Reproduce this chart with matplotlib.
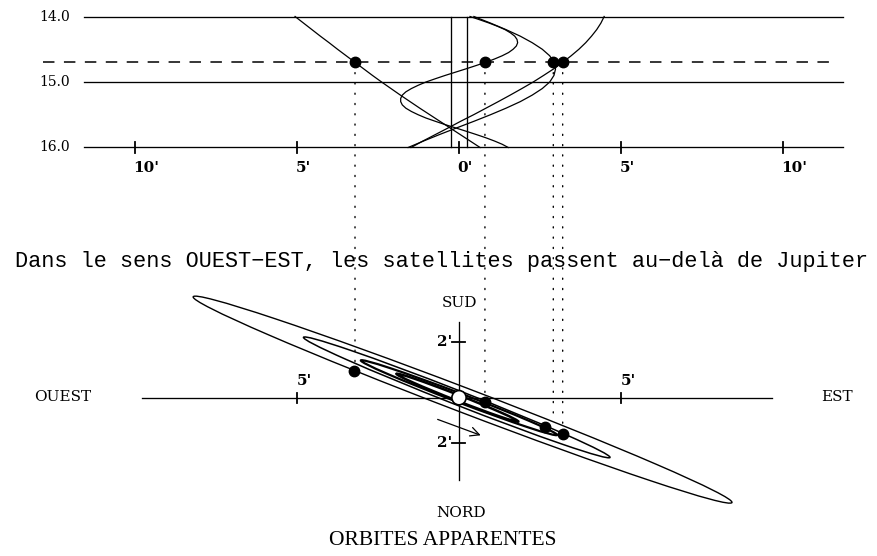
import matplotlib
matplotlib.use("Agg")
import matplotlib.pyplot as plt
from matplotlib.patches import Ellipse, Circle, ConnectionPatch
import numpy as np

SERIF = "DejaVu Serif"
SERIF2 = "Liberation Serif"
MONO = "Liberation Mono"

# --- top panel: east-west offset (arcmin) against date (days) ---
days = np.linspace(14.0, 16.0, 21)
days_io = np.linspace(14.0, 16.0, 41)

io_x = [0.34, 0.64, 0.93, 1.19, 1.42, 1.59, 1.72, 1.79, 1.81, 1.77,
        1.67, 1.53, 1.33, 1.09, 0.82, 0.52, 0.21, -0.11, -0.43, -0.73,
        -1.02, -1.26, -1.47, -1.64, -1.75, -1.80, -1.80, -1.75, -1.64, -1.47,
        -1.26, -1.02, -0.73, -0.43, -0.11, 0.21, 0.52, 0.82, 1.09, 1.33, 1.52]
europa_x = [0.46, 0.97, 1.45, 1.89, 2.26, 2.57, 2.80, 2.93, 2.98, 2.93,
            2.80, 2.57, 2.26, 1.89, 1.45, 0.97, 0.46, -0.07, -0.59, -1.09, -1.57]
ganymede_x = [4.48, 4.38, 4.25, 4.09, 3.91, 3.70, 3.46, 3.20, 2.92, 2.61,
              2.29, 1.94, 1.58, 1.21, 0.83, 0.45, 0.05, -0.33, -0.72, -1.11, -1.48]
callisto_x = [-5.06, -4.80, -4.54, -4.28, -4.01, -3.75, -3.48, -3.21, -2.94, -2.67,
              -2.39, -2.10, -1.81, -1.51, -1.21, -0.90, -0.59, -0.28, 0.03, 0.34, 0.65]

date_lines = [14.0, 15.0, 16.0]
obs_date = 14.70
jupiter_edge = 0.26
top_ticks = [-10, -5, 0, 5, 10]

# positions of the satellites at the observation date
dots_top_x = [-3.21, 0.80, 2.91, 3.20]
dots_bot = [(-3.23, 0.83), (0.80, -0.13), (2.65, -0.90), (3.20, -1.11)]
dotted_end_y = [0.83, -0.13, -0.70, -1.11]

# --- bottom panel: apparent orbits (centre x, centre y, semi-major, semi-minor, tilt) ---
orbits = {
    "Io": (-0.05, 0.0, 2.02, 0.09, -21.4),
    "Europe": (0.0, 0.0, 3.24, 0.14, -20.8),
    "Ganymede": (-0.07, 0.01, 5.08, 0.22, -21.4),
    "Callisto": (0.11, -0.06, 8.90, 0.38, -20.9),
}
orbit_lw = {"Io": 1.8, "Europe": 1.6, "Ganymede": 1.1, "Callisto": 1.0}
bot_xticks = [-5, 5]
bot_yticks = [1.73, -1.40]

fig = plt.figure(figsize=(8.77, 5.56), dpi=100)
ax_t = fig.add_axes([0, 0, 1, 1])
ax_b = fig.add_axes([0, 0, 1, 1])
for ax in (ax_t, ax_b):
    ax.set_axis_off()
    ax.set_xlim(-14.167, 12.901)
ax_t.set_ylim(22.237, 13.748)
ax_b.set_ylim(-4.886, 12.275)
ax_b.patch.set_visible(False)

# top panel
for d in date_lines:
    ax_t.plot([-11.57, 11.86], [d, d], color="k", lw=0.95)
    ax_t.text(-12.0, d, f"{d:.1f}", ha="right", va="center",
              fontsize=10, family=SERIF)
ax_t.plot([-12.84, 11.70], [obs_date, obs_date], color="k", lw=1.1,
          dashes=(7.5, 6.2))
for e in (-jupiter_edge, jupiter_edge):
    ax_t.plot([e, e], [14.0, 16.0], color="k", lw=0.95)
for t in top_ticks:
    ax_t.plot([t, t], [15.916, 16.084], color="k", lw=1.3)
    ax_t.text(t - 0.05, 16.313, f"{abs(t)}'", ha="left", va="center",
              fontsize=11, fontweight="bold", family=SERIF)

ax_t.plot(io_x, days_io, color="k", lw=0.9)
for xs in (europa_x, ganymede_x, callisto_x):
    ax_t.plot(xs, days, color="k", lw=0.9)
ax_t.plot(dots_top_x, [obs_date] * len(dots_top_x), "o", color="k", ms=7.5)

ax_t.text(-0.55, 17.748,
          "Dans le sens OUEST\u2212EST, les satellites passent au\u2212del\u00e0 de Jupiter",
          ha="center", va="center", fontsize=15.75, family=MONO)

# dotted links between the two panels
for xt, yb in zip(dots_top_x, dotted_end_y):
    con = ConnectionPatch(xyA=(xt, obs_date), coordsA=ax_t.transData,
                          xyB=(xt, yb), coordsB=ax_b.transData,
                          color="k", lw=1.0, linestyle=(0, (0.8, 6.6)))
    fig.add_artist(con)

# bottom panel
ax_b.plot([-9.78, 9.66], [0, 0], color="k", lw=0.95)
ax_b.plot([0, 0], [-2.54, 2.35], color="k", lw=0.95)
for t in bot_xticks:
    ax_b.plot([t, t], [-0.15, 0.16], color="k", lw=1.3)
    ax_b.text(t, 0.52, f"{abs(t)}'", ha="left", va="center",
              fontsize=11, fontweight="bold", family=SERIF)
for t in bot_yticks:
    ax_b.plot([-0.23, 0.19], [t, t], color="k", lw=1.3)
    ax_b.text(-0.22, t, "2'", ha="right", va="center",
              fontsize=11, fontweight="bold", family=SERIF)

for name, (cx, cy, a, b, ang) in orbits.items():
    ax_b.add_patch(Ellipse((cx, cy), 2 * a, 2 * b, angle=ang, fill=False,
                           ec="k", lw=orbit_lw[name]))
ax_b.add_patch(Circle((0, 0), 0.22, fc="white", ec="k", lw=1.2, zorder=3))

bx, by = zip(*dots_bot)
ax_b.plot(bx, by, "o", color="k", ms=7.5, zorder=4)

ax_b.annotate("", xy=(0.75, -1.19), xytext=(-0.74, -0.64),
              arrowprops=dict(arrowstyle="->", lw=0.9, color="k",
                              mutation_scale=16))

ax_b.text(0.03, 2.93, "SUD", ha="center", va="center", fontsize=11, family=SERIF)
ax_b.text(0.06, -3.56, "NORD", ha="center", va="center", fontsize=11, family=SERIF)
ax_b.text(-12.22, 0.02, "OUEST", ha="center", va="center", fontsize=11, family=SERIF)
ax_b.text(11.67, 0.02, "EST", ha="center", va="center", fontsize=11, family=SERIF)
ax_b.text(-0.49, -4.42, "ORBITES APPARENTES", ha="center", va="center",
          fontsize=15.5, family=SERIF2)

fig.savefig("out.png", dpi=100)
